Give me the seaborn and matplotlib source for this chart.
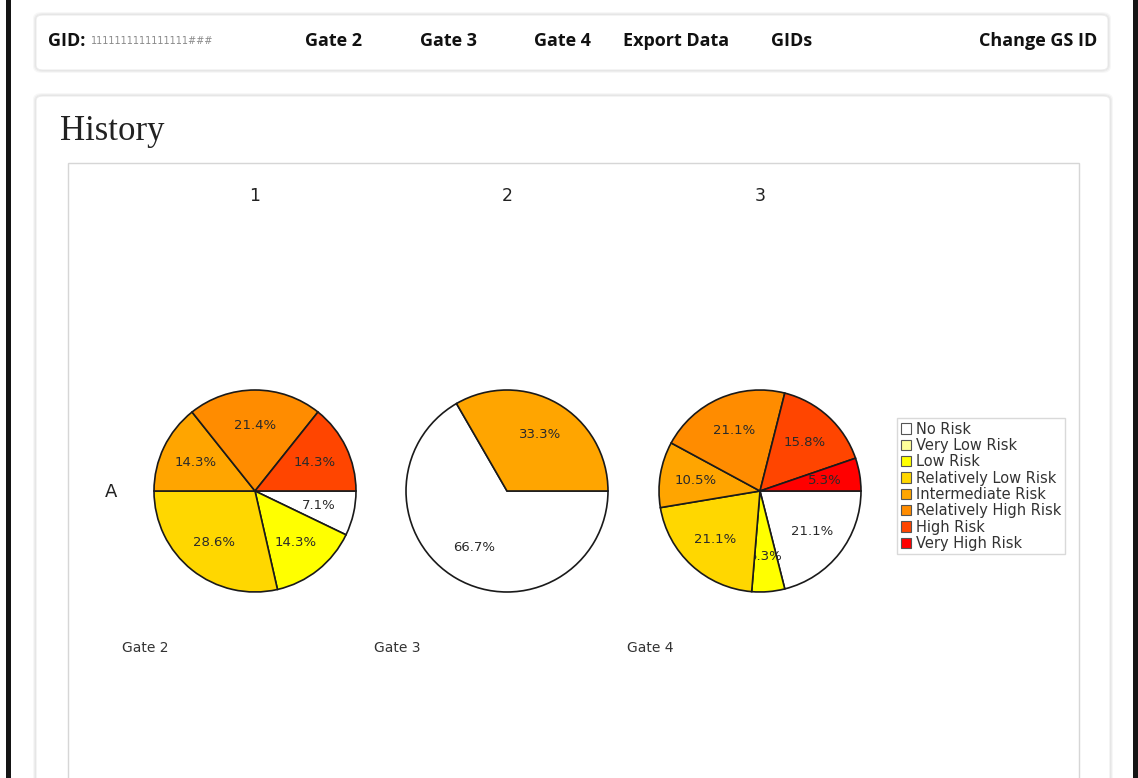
import matplotlib
matplotlib.use("Agg")
import matplotlib.pyplot as plt
from matplotlib.patches import FancyBboxPatch, Rectangle, Patch
import seaborn as sns

# data (counts per risk level, % = share of gate total)
risk_levels = ["No Risk", "Very Low Risk", "Low Risk", "Relatively Low Risk",
               "Intermediate Risk", "Relatively High Risk", "High Risk", "Very High Risk"]
risk_colors = ["#FFFFFF", "#FFFF99", "#FFFF00", "#FFD700",
               "#FFA500", "#FF8C00", "#FF4500", "#FF0000"]
gate_names = ["Gate 2", "Gate 3", "Gate 4"]
column_titles = ["1", "2", "3"]
row_label = "A"
gate2_counts = [1, 0, 2, 4, 2, 3, 2, 0]
gate3_counts = [2, 0, 0, 0, 1, 0, 0, 0]
gate4_counts = [4, 0, 1, 4, 2, 4, 3, 1]
nav_items = ["Gate 2", "Gate 3", "Gate 4", "Export Data", "GIDs"]

sns.set_style("white")
plt.rcParams["font.family"] = ["DejaVu Sans"]
palette = sns.color_palette(risk_colors)

W, H = 1138, 778
fig = plt.figure(figsize=(W / 100, H / 100), dpi=100)
fig.patch.set_facecolor("white")


def fx(x):
    return x / W


def fy(y):
    return 1 - y / H


def card(x0, y0, x1, y1):
    # soft shadow then the white card
    for i, a in enumerate([0.03, 0.04, 0.05]):
        d = 3 - i
        fig.patches.append(FancyBboxPatch(
            (fx(x0 - d), fy(y1 + d)), fx(x1 - x0 + 2 * d), (y1 - y0 + 2 * d) / H,
            boxstyle="round,pad=0,rounding_size=0.008", transform=fig.transFigure,
            facecolor="black", edgecolor="none", alpha=a, zorder=0))
    fig.patches.append(FancyBboxPatch(
        (fx(x0), fy(y1)), fx(x1 - x0), (y1 - y0) / H,
        boxstyle="round,pad=0,rounding_size=0.006", transform=fig.transFigure,
        facecolor="white", edgecolor="#ececec", lw=0.8, zorder=1))


# page edges
fig.patches.append(Rectangle((fx(6), 0), fx(5), 1, transform=fig.transFigure,
                             facecolor="#151515", edgecolor="none", zorder=0))
fig.patches.append(Rectangle((fx(1133), 0), fx(5), 1, transform=fig.transFigure,
                             facecolor="#151515", edgecolor="none", zorder=0))

# nav bar
card(36, 15, 1108, 70)
nav_font = dict(family="Open Sans", weight="bold", fontsize=13, color="#111",
                va="center", zorder=3)
fig.text(fx(48), fy(41), "GID:", ha="left", **nav_font)
fig.text(fx(91), fy(41), "1111111111111111###", ha="left", va="center",
         fontsize=7, color="#8a8a8a", family="DejaVu Sans Condensed", zorder=3)
for x, name in zip([305, 420, 534, 623, 771], nav_items):
    fig.text(fx(x), fy(41), name, ha="left", **nav_font)
fig.text(fx(1097), fy(41), "Change GS ID", ha="right", **nav_font)

# main card
card(36, 96, 1110, 800)
fig.text(fx(60), fy(140), "History", family="Liberation Serif", fontsize=25,
         color="#222", ha="left", va="baseline", zorder=3)
fig.patches.append(Rectangle((fx(68), fy(790)), fx(1079 - 68), (790 - 163) / H,
                             transform=fig.transFigure, facecolor="white",
                             edgecolor="#d6d6d6", lw=1, zorder=2))

# pies
centers = [255, 507, 760]
cy, r = 491, 102
for cx, counts, title, gate in zip(centers, [gate2_counts, gate3_counts, gate4_counts],
                                   column_titles, gate_names):
    ax = fig.add_axes([fx(cx - r), fy(cy + r), fx(2 * r), 2 * r / H], zorder=4)
    vals = [v for v in counts if v > 0]
    cols = [palette[i] for i, v in enumerate(counts) if v > 0]
    wedges, texts, autotexts = ax.pie(
        vals, colors=cols, startangle=0, counterclock=False, radius=1,
        autopct="%.1f%%", pctdistance=0.65,
        wedgeprops=dict(edgecolor="#1a1a1a", linewidth=1.2),
        textprops=dict(fontsize=9.5, color="#2a2a2a", family="DejaVu Sans"))
    # each label sits under the wedges drawn after it
    for i, (w, t) in enumerate(zip(wedges, autotexts)):
        w.set_zorder(2 * i + 1)
        t.set_zorder(2 * i + 2)
    ax.set_xlim(-1.01, 1.01)
    ax.set_ylim(-1.01, 1.01)
    ax.set_aspect("equal")
    ax.axis("off")
    fig.text(fx(cx), fy(196), title, ha="center", va="center", fontsize=12.5,
             color="#222", zorder=5)
    fig.text(fx(cx - 110), fy(648), gate, ha="center", va="center", fontsize=10,
             color="#333", zorder=5)

fig.text(fx(111), fy(492), row_label, ha="center", va="center", fontsize=13,
         color="#222", zorder=5)

handles = [Patch(facecolor=c, edgecolor="#555", lw=0.8) for c in palette]
leg = fig.legend(handles, risk_levels, loc="upper left",
                 bbox_to_anchor=(fx(897), fy(418)), frameon=True, fancybox=False,
                 prop=dict(family="DejaVu Sans", size=10.5),
                 handlelength=0.72, handleheight=0.72,
                 handletextpad=0.3, labelspacing=0.09, borderpad=0.25,
                 borderaxespad=0)
leg.get_frame().set_edgecolor("#d0d0d0")
leg.get_frame().set_linewidth(1)
leg.set_zorder(6)
for t in leg.get_texts():
    t.set_color("#333")

fig.savefig("out.png", dpi=100)
